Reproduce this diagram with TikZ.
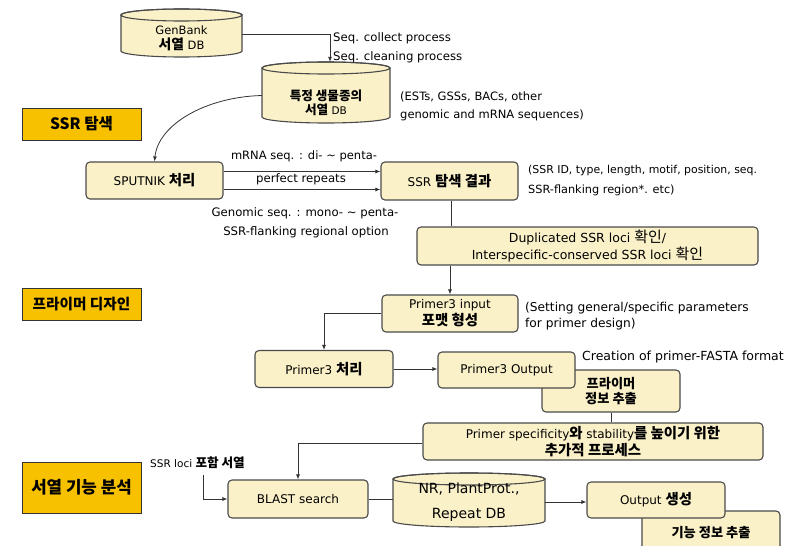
\documentclass[tikz,border=0pt]{standalone}
\usepackage{fontspec}
\setmainfont{DejaVu Sans}
\newfontfamily\kr[Scale=1.2]{Noto Sans CJK KR}
\usetikzlibrary{arrows.meta}
\definecolor{cream}{HTML}{FBF1C9}
\definecolor{boxline}{HTML}{4A4A4A}
\definecolor{gold}{HTML}{F8C100}
\definecolor{linec}{HTML}{333333}
\newcommand\K[1]{{\kr\bfseries #1}}
\newcommand\KR[1]{{\kr #1}}
\newcommand\fs[1]{\fontsize{#1}{17}\selectfont}
\tikzset{
  box/.style={draw=boxline, fill=cream, rounded corners=4pt, line width=1.1pt, align=center,
    font=\fs{12}, inner sep=0pt},
  tagbox/.style={draw=linec, fill=gold, line width=1pt, inner sep=0pt},
  cylbody/.style={draw=boxline, fill=cream, line width=1.1pt},
  conn/.style={draw=linec, line width=0.8pt},
  arr/.style={conn, -{Latex[length=5pt,width=4pt]}},
  note/.style={inner sep=0pt, anchor=west, font=\fs{11.5}},
  cnote/.style={inner sep=0pt, font=\fs{11.7}},
  anchorbox/.style={draw=none, inner sep=0pt}
}
\begin{document}
\begin{tikzpicture}[x=1pt,y=-1pt]
\useasboundingbox (0,0) rectangle (793,546);
\fill[white] (0,0) rectangle (793,546);

% GenBank cylinder
\path[cylbody] (121,15) -- (121,51) arc[start angle=180,end angle=360,x radius=60.5pt,y radius=6pt]
  -- (242,15) arc[start angle=0,end angle=180,x radius=60.5pt,y radius=6pt] -- cycle;
\draw[boxline, line width=1.1pt] (181.5,15) ellipse [x radius=60.5pt, y radius=6pt];
\node[anchorbox, minimum width=121pt, minimum height=48pt] (gb) at (181.5,34) {};
\node[anchorbox, align=center, font=\fontsize{11.5}{15}\selectfont] (gbt) at (181.5,38) {GenBank\\\K{서열} DB};

% species cylinder
\path[cylbody] (262,68) -- (262,117) arc[start angle=180,end angle=360,x radius=64pt,y radius=6pt]
  -- (390,68) arc[start angle=0,end angle=180,x radius=64pt,y radius=6pt] -- cycle;
\draw[boxline, line width=1.1pt] (326,68) ellipse [x radius=64pt, y radius=6pt];
\node[anchorbox, minimum width=128pt, minimum height=61pt] (cyl2) at (326,92.5) {};
\node[anchorbox, align=center, font=\fontsize{10.5}{14}\selectfont] (cyl2t) at (326,103) {\K{특정 생물종의}\\\K{서열} DB};

% NR cylinder
\path[cylbody] (393,479) -- (393,521) arc[start angle=180,end angle=360,x radius=76pt,y radius=6pt]
  -- (545,479) arc[start angle=0,end angle=180,x radius=76pt,y radius=6pt] -- cycle;
\draw[boxline, line width=1.1pt] (469,479) ellipse [x radius=76pt, y radius=6pt];
\node[anchorbox, minimum width=152pt, minimum height=54pt, align=center,
  font=\fontsize{14}{25}\selectfont] (nr) at (469,502) {NR, PlantProt.,\\Repeat DB};

% tag boxes
\node[tagbox, minimum width=119pt, minimum height=32pt, font=\kr\bfseries\fontsize{13}{15}\selectfont] (tag1) at (81.5,124) {SSR 탐색};
\node[tagbox, minimum width=119pt, minimum height=32pt, font=\kr\bfseries\fontsize{12.2}{15}\selectfont] (tag2) at (81.5,304) {프라이머 디자인};
\node[tagbox, minimum width=119pt, minimum height=51pt, font=\kr\bfseries\fontsize{14}{16}\selectfont] (tag3) at (81.5,487.5) {서열 기능 분석};

% process boxes
\node[box, minimum width=137pt, minimum height=37pt] (sputnik) at (154.5,180.5) {SPUTNIK \K{처리}};
\node[box, minimum width=137pt, minimum height=38pt] (ssrres) at (449.5,181) {SSR \K{탐색 결과}};
\node[box, minimum width=341pt, minimum height=38pt, font=\fs{12.5}] (dup) at (587.5,246)
  {Duplicated SSR loci \KR{확인}/\\Interspecific-conserved SSR loci \KR{확인}};
\node[box, minimum width=136pt, minimum height=37pt] (p3in) at (450,313.5) {Primer3 input\\\K{포맷 형성}};
\node[box, minimum width=138pt, minimum height=37pt] (p3proc) at (324,369) {Primer3 \K{처리}};
\node[box, minimum width=138pt, minimum height=42pt, font=\fontsize{11}{15}\selectfont] (pinfo) at (611,391) {\K{프라이머}\\\K{정보 추출}};
\node[box, minimum width=137pt, minimum height=36pt] (p3out) at (506.5,370) {Primer3 Output};
\node[box, minimum width=340pt, minimum height=37pt, font=\fontsize{12}{17}\selectfont] (spec) at (593,441.5)
  {Primer specificity\K{와} stability\K{를 높이기 위한}\\\K{추가적 프로세스}};
\node[box, minimum width=140pt, minimum height=38pt] (blast) at (298,499) {BLAST search};
\node[box, minimum width=138pt, minimum height=44pt, font=\fs{11}] (finfo) at (711,533) {\K{기능 정보 추출}};
\node[box, minimum width=138pt, minimum height=36pt] (outgen) at (656,500) {Output \K{생성}};

% notes
\node[note, font=\fs{11.7}] (n1) at (333,38) {Seq. collect process};
\node[note, font=\fs{11.7}] (n2) at (333,57) {Seq. cleaning process};
\node[note] (n3) at (400,97) {(ESTs, GSSs, BACs, other};
\node[note] (n4) at (400,115) {genomic and mRNA sequences)};
\node[cnote, font=\fs{11.5}] (n5) at (304,156) {mRNA seq. : di- \textasciitilde{} penta-};
\node[cnote] (n6) at (301,179) {perfect repeats};
\node[cnote] (n7) at (305,213) {Genomic seq. : mono- \textasciitilde{} penta-};
\node[cnote] (n8) at (306,232) {SSR-flanking regional option};
\node[note, font=\fs{10.9}] (n9) at (528,170) {(SSR ID, type, length, motif, position, seq.};
\node[note, font=\fs{11.3}] (n10) at (528,190) {SSR-flanking region*. etc)};
\node[note, font=\fs{12.2}] (n11) at (525,308) {(Setting general/specific parameters};
\node[note, font=\fs{12.2}] (n12) at (525,324) {for primer design)};
\node[note, font=\fs{12.5}] (n13) at (582,357) {Creation of primer-FASTA format};
\node[note, font=\fs{10.5}] (n14) at (150,463) {SSR loci \K{포함 서열}};

% connectors
\draw[arr] (gb.east) -| ([xshift=4pt]cyl2.north);
\draw[arr] ([yshift=-3pt]cyl2.west) .. controls (205,97) and (158,125) .. (sputnik.north);
\draw[arr] ([yshift=9pt]sputnik.east) -- ([yshift=9pt]sputnik.east -| ssrres.west);
\draw[arr] ([yshift=-9pt]sputnik.east) -- ([yshift=-9pt]sputnik.east -| ssrres.west);
\draw[conn] ([xshift=1.5pt]ssrres.south) -- ([xshift=1.5pt]ssrres.south |- dup.north);
\draw[arr] (dup.south -| p3in.north) -- (p3in.north);
\draw[arr] (p3in.west) -| (p3proc.north);
\draw[arr] (p3proc.east) -- (p3proc.east -| p3out.west);
\draw[conn] (pinfo.south) -- (pinfo.south |- spec.north);
\draw[arr] ([yshift=-1.5pt]spec.west) -| (blast.north);
\coordinate (c10) at (203,475);
\draw[arr] (c10) |- (blast.west);
\draw[conn] (blast.east) -- (blast.east -| nr.west);
\draw[arr] (nr.east) -- (nr.east -| outgen.west);
\end{tikzpicture}
\end{document}
